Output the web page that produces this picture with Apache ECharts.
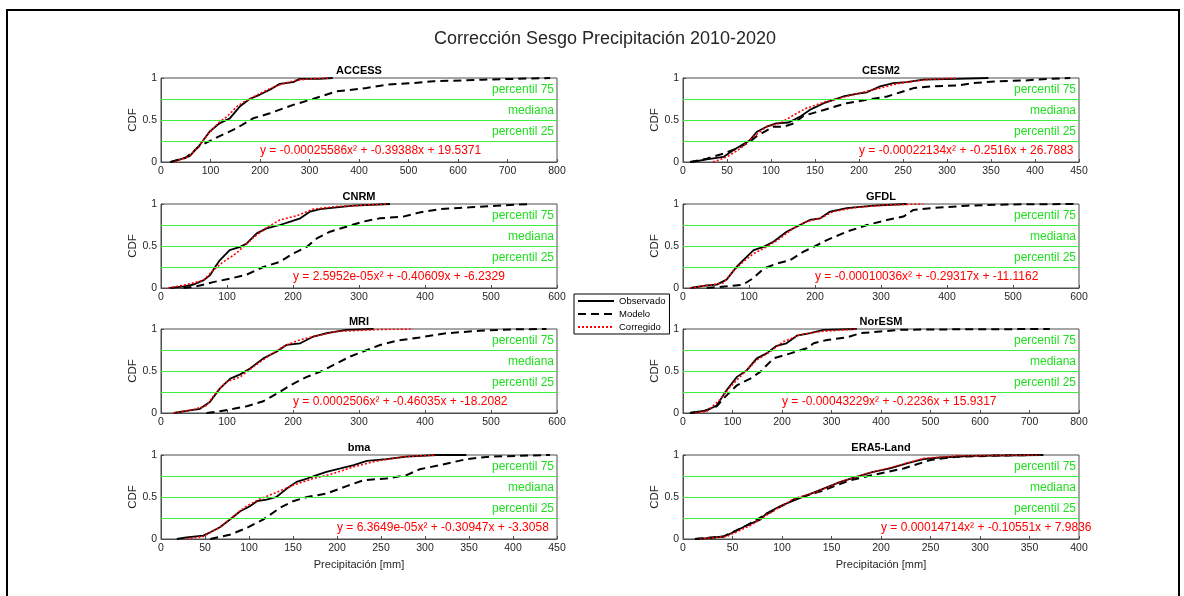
<!DOCTYPE html>
<html><head><meta charset="utf-8">
<script src="https://cdn.jsdelivr.net/npm/echarts/dist/echarts.min.js"></script>
<style>html,body{margin:0;padding:0;background:#fff}#c{width:1184px;height:596px}</style>
</head><body><div id="c"></div>
<script>
// ---------------- DATA ----------------
const mainTitle = 'Corrección Sesgo Precipitación 2010-2020';
const panelNames = ['ACCESS', 'CESM2', 'CNRM', 'GFDL', 'MRI', 'NorESM', 'bma', 'ERA5-Land'];
const xMaxes = [800, 450, 600, 600, 600, 800, 450, 400];
const xSteps = [100, 50, 100, 100, 100, 100, 50, 50];
const equations = [
  'y = -0.00025586x² + -0.39388x + 19.5371',
  'y = -0.00022134x² + -0.2516x + 26.7883',
  'y = 2.5952e-05x² + -0.40609x + -6.2329',
  'y = -0.00010036x² + -0.29317x + -11.1162',
  'y = 0.0002506x² + -0.46035x + -18.2082',
  'y = -0.00043229x² + -0.2236x + 15.9317',
  'y = 6.3649e-05x² + -0.30947x + -3.3058',
  'y = 0.00014714x² + -0.10551x + 7.9836'
];
const percentileLevels = [0.25, 0.5, 0.75];
const percentileLabels = ['percentil 25', 'mediana', 'percentil 75'];
const legendNames = ['Observado', 'Modelo', 'Corregido'];

const accessObs = [[18,0],[38,0.03],[58,0.07],[78,0.2],[98,0.36],[118,0.46],[139,0.52],[159,0.66],[179,0.75],[199,0.8],[220,0.86],[240,0.93],[267,0.95],[280,0.99],[320,0.99],[347,1]];
const accessMod = [[20,0],[50,0.05],[78,0.19],[112,0.29],[152,0.4],[186,0.52],[220,0.58],[267,0.68],[307,0.75],[354,0.84],[415,0.88],[455,0.92],[509,0.94],[550,0.96],[650,0.98],[786,1]];
const accessCor = [[28,0],[35,0.02],[55,0.06],[75,0.18],[95,0.33],[115,0.46],[135,0.55],[155,0.67],[175,0.74],[195,0.8],[215,0.86],[240,0.92],[270,0.97],[300,0.99],[340,1]];

const cesm2Obs = [[10,0],[27,0.03],[46,0.06],[57,0.14],[65,0.19],[76,0.26],[84,0.36],[95,0.42],[106,0.46],[120,0.47],[133,0.54],[144,0.62],[160,0.7],[171,0.74],[182,0.78],[197,0.81],[209,0.83],[224,0.9],[239,0.94],[254,0.95],[273,0.98],[311,0.99],[347,1]];
const cesm2Mod = [[8,0],[27,0.04],[46,0.1],[61,0.16],[76,0.24],[84,0.31],[103,0.42],[114,0.42],[126,0.46],[137,0.55],[160,0.62],[186,0.7],[209,0.74],[232,0.78],[250,0.84],[262,0.88],[281,0.9],[311,0.91],[330,0.94],[357,0.96],[387,0.97],[417,0.99],[440,1]];
const cesm2Cor = [[34,0],[50,0.06],[65,0.16],[80,0.3],[95,0.42],[110,0.46],[126,0.56],[140,0.64],[163,0.72],[186,0.78],[216,0.86],[247,0.94],[277,0.98],[311,1]];

const cnrmObs = [[14,0],[34,0.02],[49,0.04],[64,0.09],[74,0.15],[82,0.25],[89,0.33],[104,0.45],[120,0.49],[130,0.53],[145,0.65],[160,0.71],[180,0.75],[196,0.79],[211,0.83],[226,0.91],[241,0.94],[266,0.96],[292,0.98],[347,1]];
const cnrmMod = [[34,0],[54,0.02],[79,0.07],[104,0.11],[130,0.16],[155,0.25],[180,0.31],[200,0.41],[221,0.49],[236,0.59],[256,0.67],[281,0.73],[306,0.79],[332,0.83],[367,0.85],[392,0.9],[423,0.94],[468,0.96],[509,0.98],[559,1]];
const cnrmCor = [[11,0],[39,0.04],[64,0.09],[79,0.21],[94,0.31],[110,0.39],[125,0.49],[140,0.6],[160,0.72],[180,0.81],[206,0.86],[231,0.94],[266,0.97],[317,0.99],[342,1]];

const gfdlObs = [[11,0],[36,0.03],[51,0.04],[66,0.1],[81,0.25],[91,0.33],[107,0.45],[122,0.49],[137,0.55],[157,0.67],[172,0.73],[192,0.81],[208,0.83],[223,0.91],[248,0.95],[289,0.98],[339,1]];
const gfdlMod = [[36,0],[66,0.02],[91,0.04],[107,0.12],[122,0.23],[142,0.29],[162,0.33],[182,0.43],[198,0.49],[218,0.57],[248,0.67],[279,0.75],[309,0.81],[334,0.85],[349,0.93],[375,0.95],[430,0.98],[491,0.995],[597,1]];
const gfdlCor = [[11,0],[36,0.03],[61,0.06],[76,0.2],[91,0.31],[107,0.41],[127,0.49],[147,0.59],[167,0.71],[187,0.79],[208,0.83],[228,0.91],[263,0.96],[313,0.99],[364,1]];

const mriObs = [[19,0],[39,0.025],[59,0.05],[74,0.13],[89,0.29],[105,0.41],[120,0.46],[135,0.53],[155,0.65],[175,0.73],[190,0.81],[211,0.83],[231,0.91],[251,0.95],[281,0.99],[322,1]];
const mriMod = [[69,0],[89,0.02],[110,0.05],[130,0.08],[155,0.14],[180,0.25],[196,0.33],[221,0.43],[241,0.49],[261,0.57],[286,0.67],[312,0.75],[332,0.81],[357,0.86],[392,0.9],[433,0.95],[483,0.98],[534,0.996],[584,1]];
const mriCor = [[19,0],[49,0.04],[69,0.09],[84,0.25],[99,0.37],[120,0.43],[140,0.55],[165,0.69],[185,0.79],[206,0.86],[231,0.91],[266,0.97],[332,0.995],[382,1]];

const noresmObs = [[14,0],[48,0.03],[68,0.09],[88,0.27],[109,0.43],[129,0.51],[149,0.65],[169,0.71],[189,0.8],[209,0.83],[230,0.92],[257,0.95],[284,0.99],[351,1]];
const noresmMod = [[14,0],[41,0.02],[68,0.08],[88,0.21],[109,0.33],[136,0.41],[156,0.49],[183,0.65],[217,0.71],[250,0.77],[264,0.83],[291,0.87],[331,0.9],[358,0.95],[398,0.97],[438,0.99],[519,0.995],[741,1]];
const noresmCor = [[24,0],[48,0.02],[75,0.16],[95,0.31],[122,0.47],[149,0.63],[176,0.73],[203,0.85],[236,0.93],[277,0.97],[351,1]];

const bmaObs = [[18,0],[29,0.02],[48,0.04],[56,0.08],[67,0.14],[78,0.23],[90,0.33],[101,0.39],[109,0.45],[120,0.47],[131,0.5],[143,0.6],[154,0.68],[166,0.72],[177,0.76],[188,0.8],[204,0.84],[219,0.88],[234,0.93],[256,0.95],[279,0.98],[313,1],[347,1]];
const bmaMod = [[56,0],[78,0.05],[97,0.13],[116,0.23],[135,0.37],[150,0.45],[166,0.5],[188,0.54],[211,0.63],[230,0.7],[256,0.72],[279,0.76],[294,0.83],[317,0.88],[347,0.95],[373,0.98],[408,0.99],[442,1]];
const bmaCor = [[29,0],[48,0.03],[67,0.14],[82,0.27],[97,0.39],[113,0.48],[128,0.54],[150,0.64],[173,0.72],[196,0.78],[219,0.86],[242,0.92],[275,0.98],[313,1]];

const era5Obs = [[12,0],[24,0.01],[41,0.03],[51,0.08],[64,0.16],[78,0.23],[85,0.31],[98,0.39],[112,0.46],[125,0.52],[142,0.6],[159,0.68],[175,0.74],[192,0.8],[209,0.84],[226,0.9],[243,0.95],[260,0.97],[293,0.99],[364,1]];
const era5Mod = [[12,0],[41,0.03],[64,0.16],[85,0.3],[112,0.47],[142,0.58],[169,0.7],[199,0.78],[223,0.84],[250,0.94],[277,0.98],[327,0.995],[361,1]];
const era5Cor = [[17,0],[44,0.03],[68,0.16],[88,0.31],[112,0.48],[135,0.56],[159,0.68],[186,0.78],[213,0.86],[243,0.96],[277,0.99],[361,1]];

const observedSets = [accessObs, cesm2Obs, cnrmObs, gfdlObs, mriObs, noresmObs, bmaObs, era5Obs];
const modelSets = [accessMod, cesm2Mod, cnrmMod, gfdlMod, mriMod, noresmMod, bmaMod, era5Mod];
const correctedSets = [accessCor, cesm2Cor, cnrmCor, gfdlCor, mriCor, noresmCor, bmaCor, era5Cor];

// ---------------- LAYOUT / STYLE ----------------
const FONT = '"Liberation Sans", Arial, Helvetica, sans-serif';
const AX = '#4d4d4d';
const TXT = '#262626';
const GREEN_LINE = '#3df03d';
const GREEN_TEXT = '#1fe01f';
const colLefts = [161, 683];
const rowTops = [78, 204, 329, 455];
const GW = 396, GH = 84;
const EQ_X = 200, EQ_Y = 0.135;

const grids = [], xAxes = [], yAxes = [], series = [];
const titles = [{
  text: mainTitle, left: 600, top: 25, textAlign: 'center',
  textStyle: { fontSize: 18, fontWeight: 'normal', color: TXT, fontFamily: FONT }
}];

panelNames.forEach((name, i) => {
  const left = colLefts[i % 2];
  const top = rowTops[Math.floor(i / 2)];
  const bottomRow = Math.floor(i / 2) === 3;
  grids.push({ left: left, top: top, width: GW, height: GH, show: true, borderColor: AX, borderWidth: 1, backgroundColor: '#fff' });
  titles.push({
    text: name, left: left + GW / 2, top: top - 14, textAlign: 'center', padding: 0,
    textStyle: { fontSize: 11, fontWeight: 'bold', color: '#000', fontFamily: FONT, lineHeight: 13 }
  });
  xAxes.push({
    gridIndex: i, type: 'value', min: 0, max: xMaxes[i], interval: xSteps[i],
    axisLine: { show: true, onZero: false, lineStyle: { color: AX, width: 1 } },
    axisTick: { show: true, inside: true, length: 3, lineStyle: { color: AX } },
    axisLabel: { fontSize: 10.5, color: TXT, margin: 4, fontFamily: FONT },
    splitLine: { show: false },
    name: bottomRow ? 'Precipitación [mm]' : '',
    nameLocation: 'middle', nameGap: 20,
    nameTextStyle: { fontSize: 11, color: TXT, fontFamily: FONT }
  });
  yAxes.push({
    gridIndex: i, type: 'value', min: 0, max: 1, interval: 0.5,
    axisLine: { show: true, onZero: false, lineStyle: { color: AX, width: 1 } },
    axisTick: { show: true, inside: true, length: 3, lineStyle: { color: AX } },
    axisLabel: { fontSize: 10.5, color: TXT, margin: 4, fontFamily: FONT },
    splitLine: { show: false },
    name: 'CDF', nameLocation: 'middle', nameRotate: 90, nameGap: 13,
    nameTextStyle: { fontSize: 11.5, color: TXT, fontFamily: FONT }
  });
  // helper series carrying the percentile lines and the fit equation
  series.push({
    type: 'line', xAxisIndex: i, yAxisIndex: i, data: observedSets[i], symbol: 'none', silent: true,
    lineStyle: { opacity: 0 }, z: 1,
    markLine: {
      silent: true, symbol: ['none', 'none'], animation: false,
      lineStyle: { color: GREEN_LINE, width: 1, type: 'solid' },
      label: { show: true, position: 'insideEndTop', color: GREEN_TEXT, fontSize: 12, fontFamily: FONT, distance: [3, 3] },
      emphasis: { disabled: true },
      data: percentileLevels.map((v, k) => ({ yAxis: v, label: { formatter: percentileLabels[k] } }))
    },
    markPoint: {
      silent: true, symbol: 'circle', symbolSize: 0, animation: false,
      itemStyle: { color: 'transparent' },
      label: { show: true, position: 'right', distance: 0, color: '#ff0000', fontSize: 12, fontFamily: FONT, formatter: equations[i] },
      data: [{ coord: [EQ_X, EQ_Y] }]
    }
  });
  series.push({
    name: legendNames[0], type: 'line', xAxisIndex: i, yAxisIndex: i, data: observedSets[i],
    symbol: 'none', z: 3, lineStyle: { color: '#000', width: 1.8, type: 'solid' }, itemStyle: { color: '#000' }
  });
  series.push({
    name: legendNames[1], type: 'line', xAxisIndex: i, yAxisIndex: i, data: modelSets[i],
    symbol: 'none', z: 3, lineStyle: { color: '#000', width: 2, type: [8, 5] }, itemStyle: { color: '#000' }
  });
  series.push({
    name: legendNames[2], type: 'line', xAxisIndex: i, yAxisIndex: i, data: correctedSets[i],
    symbol: 'none', z: 4, lineStyle: { color: '#ff0000', width: 1.6, type: [2, 2] }, itemStyle: { color: '#ff0000' }
  });
});

const option = {
  backgroundColor: '#fff',
  animation: false,
  title: titles,
  grid: grids,
  xAxis: xAxes,
  yAxis: yAxes,
  series: series,
  legend: {
    data: legendNames, orient: 'vertical', left: 574, top: 294,
    itemWidth: 36, itemHeight: 10, itemGap: 3, padding: [2, 4, 2, 3],
    borderColor: '#000', borderWidth: 1, backgroundColor: '#fff', borderRadius: 0,
    selectedMode: false,
    itemStyle: { color: 'rgba(0,0,0,0)', borderColor: 'rgba(0,0,0,0)', borderWidth: 0, opacity: 0 },
    textStyle: { fontSize: 9.5, color: '#000', fontFamily: FONT }
  },
  graphic: [{
    type: 'rect', silent: true, z: 100,
    shape: { x: 7, y: 10, width: 1172, height: 600 },
    style: { fill: 'none', stroke: '#000', lineWidth: 2 }
  }]
};

const chart = echarts.init(document.getElementById('c'), null, { renderer: 'canvas' });
chart.setOption(option);
</script>
</body></html>
